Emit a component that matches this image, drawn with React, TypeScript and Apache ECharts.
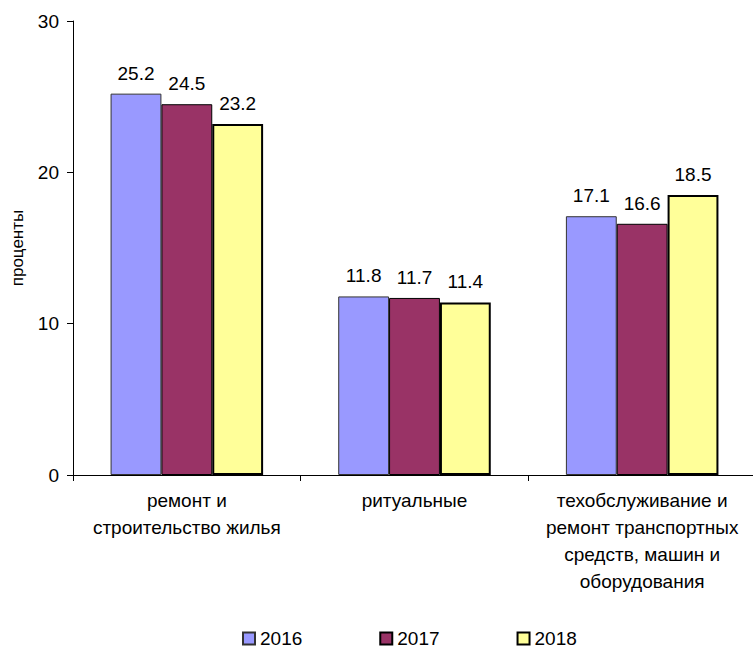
import React, { useEffect, useRef } from "react";
import * as echarts from "echarts";

const categories = [
  "ремонт и\nстроительство жилья",
  "ритуальные",
  "техобслуживание и\nремонт транспортных\nсредств, машин и\nоборудования",
];
const years = ["2016", "2017", "2018"];
const values2016 = [25.2, 11.8, 17.1];
const values2017 = [24.5, 11.7, 16.6];
const values2018 = [23.2, 11.4, 18.5];
const yTicks = [0, 10, 20, 30];

const FONT = "'Liberation Sans', Arial, sans-serif";

export default function App() {
  const ref = useRef<HTMLDivElement>(null);
  useEffect(() => {
    if (!ref.current) return;
    const chart = echarts.init(ref.current, undefined, { renderer: "svg" });
    const styles = [
      { color: "#9999FF", borderColor: "#333333", borderWidth: 1 },
      { color: "#993366", borderColor: "#000000", borderWidth: 1 },
      { color: "#FFFF99", borderColor: "#000000", borderWidth: 2 },
    ];
    const data = [values2016, values2017, values2018];
    chart.setOption({
      animation: false,
      backgroundColor: "#ffffff",
      textStyle: { fontFamily: FONT },
      grid: {
        left: 73,
        right: -3,
        top: 21,
        bottom: 176,
        containLabel: false,
        outerBoundsMode: "none",
      },
      legend: {
        left: 237,
        top: 629,
        padding: [0, 5],
        itemWidth: 12,
        itemHeight: 12,
        itemGap: 77,
        icon: "rect",
        textStyle: { fontSize: 19, color: "#000", fontFamily: FONT },
        data: years,
      },
      xAxis: {
        type: "category",
        data: categories,
        axisLine: { lineStyle: { color: "#000", width: 1 } },
        axisTick: { show: true, alignWithLabel: false, length: 6, lineStyle: { color: "#000" } },
        axisLabel: {
          interval: 0,
          fontSize: 19,
          lineHeight: 27,
          color: "#000",
          margin: 12,
          fontFamily: FONT,
        },
      },
      yAxis: {
        type: "value",
        min: yTicks[0],
        max: yTicks[yTicks.length - 1],
        interval: 10,
        name: "проценты",
        nameLocation: "middle",
        nameRotate: 90,
        nameGap: 47,
        nameTextStyle: { fontSize: 17, color: "#000", fontFamily: FONT },
        axisLine: { show: true, lineStyle: { color: "#000", width: 1 } },
        axisTick: { show: true, length: 6, lineStyle: { color: "#000" } },
        axisLabel: { fontSize: 19, color: "#000", margin: 14, fontFamily: FONT },
        splitLine: { show: false },
      },
      series: years.map((y, i) => ({
        name: y,
        type: "bar",
        data: data[i],
        barGap: "0%",
        barCategoryGap: "33%",
        itemStyle: styles[i],
        label: {
          show: true,
          position: "top",
          distance: 11,
          fontSize: 19,
          color: "#000",
          fontFamily: FONT,
          formatter: (p: any) => p.value.toFixed(1),
        },
      })),
    });
    return () => chart.dispose();
  }, []);
  return (
    <div
      ref={ref}
      style={{ position: "absolute", left: 0, top: 0, width: 753, height: 651 }}
    />
  );
}
